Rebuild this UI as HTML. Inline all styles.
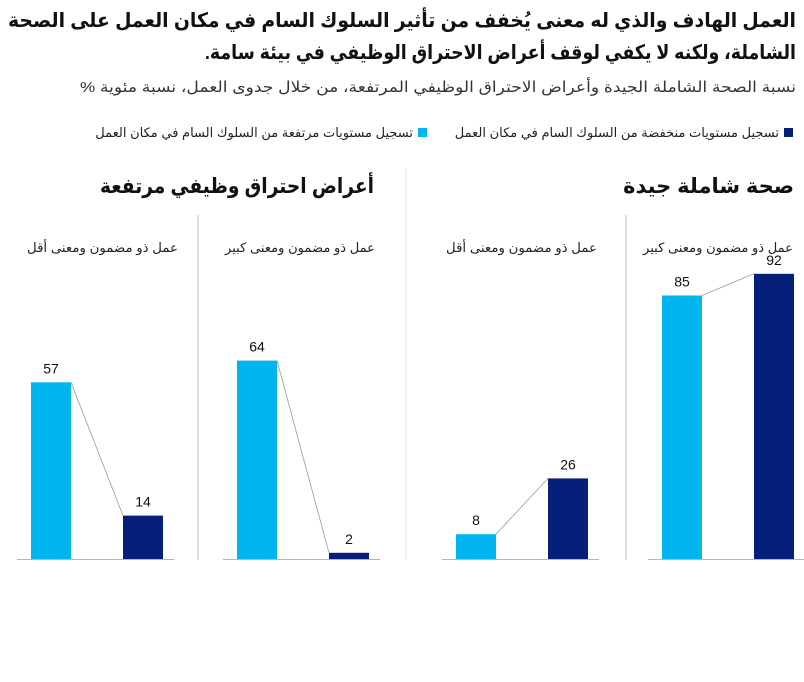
<!DOCTYPE html>
<html><head><meta charset="utf-8">
<style>
html,body{margin:0;padding:0;background:#fff;}
svg{display:block;font-family:"Liberation Sans","Noto Sans CJK SC","DejaVu Sans",sans-serif;}
</style></head>
<body>
<svg id="chart" width="804" height="682" viewBox="0 0 804 682" xmlns="http://www.w3.org/2000/svg">
<text x="796" y="27" direction="rtl" text-anchor="start" font-size="20" font-weight="bold" fill="#111" textLength="788" lengthAdjust="spacingAndGlyphs">العمل الهادف والذي له معنى يُخفف من تأثير السلوك السام في مكان العمل على الصحة</text>
<text x="796" y="59" direction="rtl" text-anchor="start" font-size="20" font-weight="bold" fill="#111" textLength="591" lengthAdjust="spacingAndGlyphs">الشاملة، ولكنه لا يكفي لوقف أعراض الاحتراق الوظيفي في بيئة سامة.</text>
<text x="796" y="92" direction="rtl" text-anchor="start" font-size="15" fill="#333" textLength="716" lengthAdjust="spacingAndGlyphs">نسبة الصحة الشاملة الجيدة وأعراض الاحتراق الوظيفي المرتفعة، من خلال جدوى العمل، نسبة مئوية %</text>
<rect x="784" y="128" width="9" height="9" fill="#061f7a"/>
<text x="779" y="137" direction="rtl" text-anchor="start" font-size="13" fill="#222">تسجيل مستويات منخفضة من السلوك السام في مكان العمل</text>
<rect x="418" y="128" width="9" height="9" fill="#00b4ee"/>
<text x="413" y="137" direction="rtl" text-anchor="start" font-size="13" fill="#222">تسجيل مستويات مرتفعة من السلوك السام في مكان العمل</text>
<line x1="406" y1="168" x2="406" y2="560" stroke="#c8c8c8" stroke-width="1" stroke-dasharray="1,1"/>
<text x="794" y="193" direction="rtl" text-anchor="start" font-size="21" font-weight="bold" fill="#111">صحة شاملة جيدة</text>
<text x="374" y="193" direction="rtl" text-anchor="start" font-size="21" font-weight="bold" fill="#111" textLength="274" lengthAdjust="spacingAndGlyphs">أعراض احتراق وظيفي مرتفعة</text>
<g id="marks"></g>
</svg>
<script>
const categories = ["عمل ذو مضمون ومعنى كبير","عمل ذو مضمون ومعنى أقل","عمل ذو مضمون ومعنى كبير","عمل ذو مضمون ومعنى أقل"];
const highToxic = [85, 8, 64, 57];
const lowToxic = [92, 26, 2, 14];
const valueLabels = ["85","8","64","57"];
const valueLabelsLow = ["92","26","2","14"];

const NS = "http://www.w3.org/2000/svg";
const g = document.getElementById('marks');
const baseY = 559, pxPer = 3.1;
function y(v){ return baseY - v * pxPer; }
function panelX(i){ return [662, 456, 237, 31][i]; }
function labelRight(i){ return [793, 597, 375, 178][i]; }
function mk(tag, attrs){ const e = document.createElementNS(NS, tag); for (const k in attrs) e.setAttribute(k, attrs[k]); g.appendChild(e); return e; }

[626, 198].forEach(function(x){
  const d = mk('line', {x1:x, y1:215, x2:x, y2:560, stroke:'#bdbdbd', 'stroke-width':1});
  
  
});

categories.forEach(function(c, i){
  const lx = panelX(i), dx = lx + 92, w = 40;
  const base = mk('line', {x1:lx-14, y1:baseY+0.5, x2:dx+w+11, y2:baseY+0.5, stroke:'#b5b5b5', 'stroke-width':1});
  
  
  const cl = mk('text', {x:labelRight(i), y:252, direction:'rtl', 'text-anchor':'start', 'font-size':'13', fill:'#222', textLength:(i%2?151:150), lengthAdjust:'spacingAndGlyphs'});
  cl.textContent = c;
  
  
  const conn = mk('line', {x1:lx+w, y1:y(highToxic[i]), x2:dx, y2:y(lowToxic[i]), stroke:'#9a9a9a', 'stroke-width':0.8});
  
  
  const b1 = mk('rect', {x:lx, y:y(highToxic[i]), width:w, height:highToxic[i]*pxPer, fill:'#00b4ee'});
  
  
  const b2 = mk('rect', {x:dx, y:y(lowToxic[i]), width:w, height:lowToxic[i]*pxPer, fill:'#061f7a'});
  
  
  const t1 = mk('text', {x:lx+w/2, y:y(highToxic[i])-9, 'text-anchor':'middle', 'font-size':'14', fill:'#111'});
  t1.textContent = valueLabels[i];
  
  
  const t2 = mk('text', {x:dx+w/2, y:y(lowToxic[i])-9, 'text-anchor':'middle', 'font-size':'14', fill:'#111'});
  t2.textContent = valueLabelsLow[i];
  
  
});
</script>
</body></html>
